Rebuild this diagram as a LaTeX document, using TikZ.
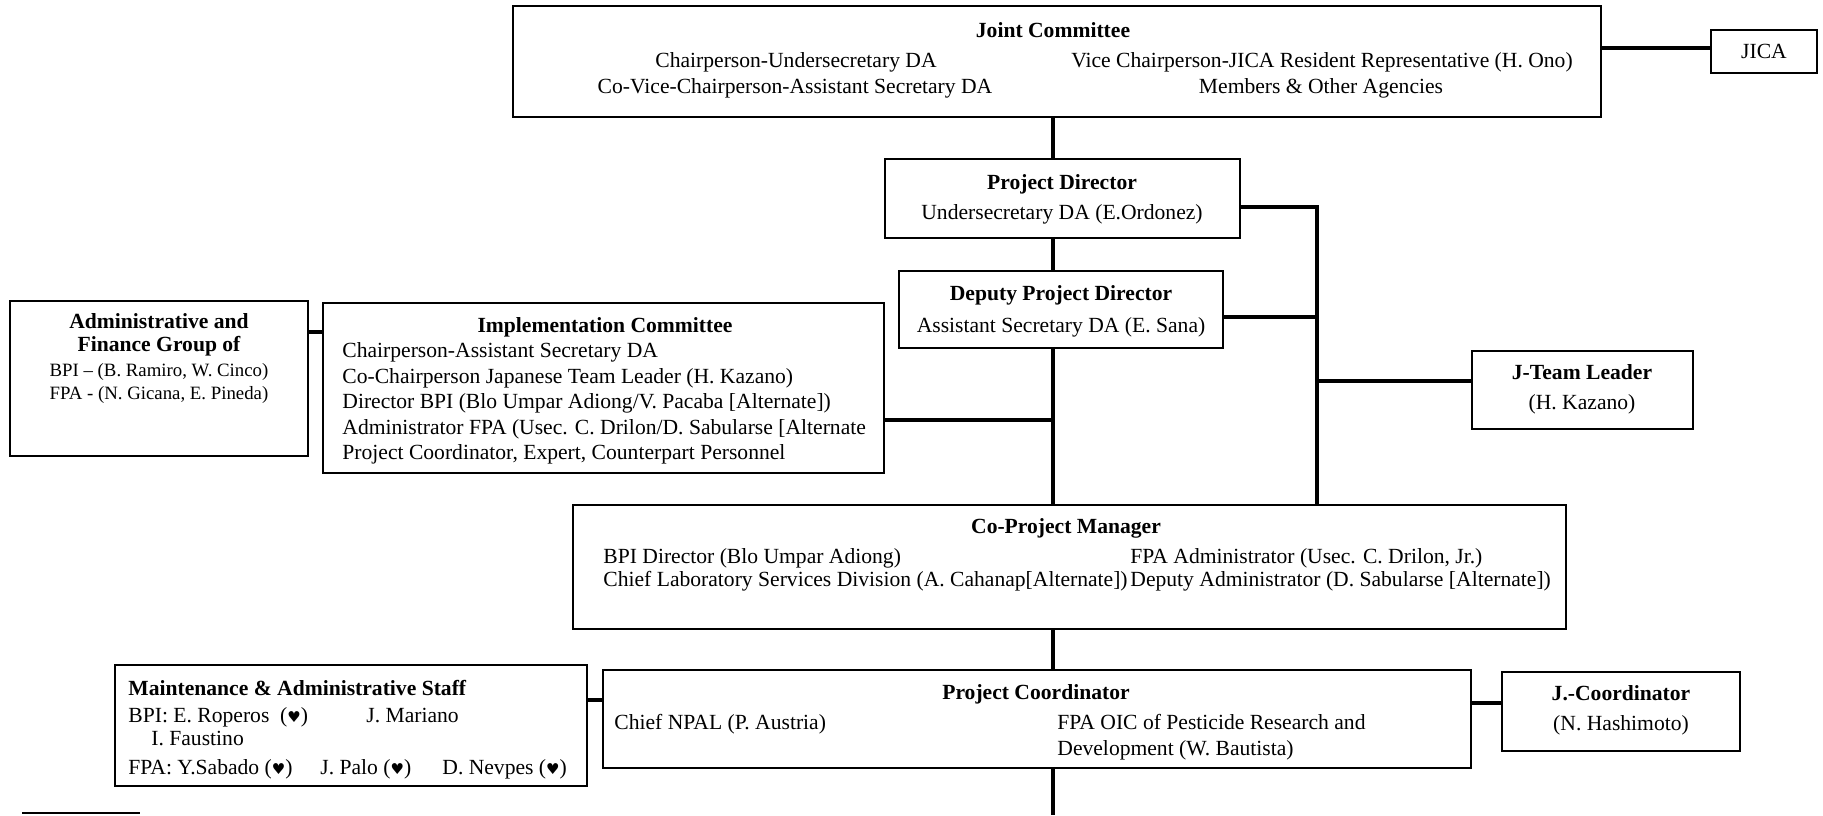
\documentclass[tikz,border=0pt]{standalone}
\usepackage{fontspec}
\setmainfont{Liberation Serif}
\newfontfamily\symfont{DejaVu Sans}
\usetikzlibrary{fit}
\newcommand\hrt{{\symfont\fontsize{7.5}{8}\selectfont ♥}}
\begin{document}
\begin{tikzpicture}[x=0.5pt,y=-0.5pt,
  box/.style={draw, line width=0.75pt, inner sep=0pt},
  txt/.style={inner sep=0pt, font=\fontsize{10.8}{12.6}\selectfont},
  ttl/.style={inner sep=0pt, font=\fontsize{10.8}{12.6}\selectfont\bfseries},
  sml/.style={inner sep=0pt, font=\fontsize{9.4}{11}\selectfont},
  conn/.style={line width=1.7pt},
  stub/.style={line width=1.1pt}]
\useasboundingbox (0,0) rectangle (1823,815);

% Joint Committee
\node[box, fit={(513,6)(1601,117)}] (JC) {};
\node[ttl, anchor=base] (JCt) at (1053,37) {Joint Committee};
\node[txt, anchor=base] (JCl1) at (796,67) {Chairperson-Undersecretary DA};
\node[txt, anchor=base] (JCl2) at (795,93) {Co-Vice-Chairperson-Assistant Secretary DA};
\node[txt, anchor=base] (JCr1) at (1322,67) {Vice Chairperson-JICA Resident Representative (H. Ono)};
\node[txt, anchor=base] (JCr2) at (1321,93) {Members \& Other Agencies};

% JICA
\node[box, fit={(1711,30)(1817,73)}] (JICA) {};
\node[txt, anchor=base] (JICAt) at (1764,58) {JICA};

% Project Director
\node[box, fit={(885,159)(1240,238)}] (PD) {};
\node[ttl, anchor=base] (PDt) at (1062,189) {Project Director};
\node[txt, anchor=base] (PDl) at (1062,219) {Undersecretary DA (E.Ordonez)};

% Deputy Project Director
\node[box, fit={(899,271)(1223,348)}] (DPD) {};
\node[ttl, anchor=base] (DPDt) at (1061,300) {Deputy Project Director};
\node[txt, anchor=base] (DPDl) at (1061,332) {Assistant Secretary DA (E. Sana)};

% Implementation Committee
\node[box, fit={(323,303)(884,473)}] (IC) {};
\node[ttl, anchor=base] (ICt) at (605,332) {Implementation Committee};
\node[txt, anchor=base west] (IC1) at (342,357) {Chairperson-Assistant Secretary DA};
\node[txt, anchor=base west] (IC2) at (342,383) {Co-Chairperson Japanese Team Leader (H. Kazano)};
\node[txt, anchor=base west] (IC3) at (342,408) {Director BPI (Blo Umpar Adiong/V. Pacaba [Alternate])};
\node[txt, anchor=base west] (IC4) at (342,434) {Administrator FPA (Usec. C. Drilon/D. Sabularse [Alternate};
\node[txt, anchor=base west] (IC5) at (342,459) {Project Coordinator, Expert, Counterpart Personnel};

% Administrative and Finance Group
\node[box, fit={(10,301)(308,456)}] (ADM) {};
\node[ttl, anchor=base] (ADMt1) at (159,328) {Administrative and};
\node[ttl, anchor=base] (ADMt2) at (159,351) {Finance Group of};
\node[sml, anchor=base] (ADM1) at (159,376) {BPI -- (B. Ramiro, W. Cinco)};
\node[sml, anchor=base] (ADM2) at (159,399) {FPA - (N. Gicana, E. Pineda)};

% J-Team Leader
\node[box, fit={(1472,351)(1693,429)}] (JTL) {};
\node[ttl, anchor=base] (JTLt) at (1582,379) {J-Team Leader};
\node[txt, anchor=base] (JTLl) at (1582,409) {(H. Kazano)};

% Co-Project Manager
\node[box, fit={(573,505)(1566,629)}] (CPM) {};
\node[ttl, anchor=base] (CPMt) at (1066,533) {Co-Project Manager};
\node[txt, anchor=base west] (CPMl1) at (603,563) {BPI Director (Blo Umpar Adiong)};
\node[txt, anchor=base west] (CPMl2) at (603,586) {Chief Laboratory Services Division (A. Cahanap[Alternate])};
\node[txt, anchor=base west] (CPMr1) at (1130,563) {FPA Administrator (Usec. C. Drilon, Jr.)};
\node[txt, anchor=base west] (CPMr2) at (1130,586) {Deputy Administrator (D. Sabularse [Alternate])};

% Project Coordinator
\node[box, fit={(603,670)(1471,768)}] (PC) {};
\node[ttl, anchor=base] (PCt) at (1036,699) {Project Coordinator};
\node[txt, anchor=base west] (PCl) at (614,729) {Chief NPAL (P. Austria)};
\node[txt, anchor=base west] (PCr1) at (1057,729) {FPA OIC of Pesticide Research and};
\node[txt, anchor=base west] (PCr2) at (1057,755) {Development (W. Bautista)};

% Maintenance & Administrative Staff
\node[box, fit={(115,665)(587,786)}] (MAS) {};
\node[ttl, anchor=base west] (MASt) at (128,695) {Maintenance \& Administrative Staff};
\node[txt, anchor=base west] (MAS1) at (128,722) {BPI: E. Roperos\ \ (\hrt)};
\node[txt, anchor=base west] (MAS2) at (366,722) {J. Mariano};
\node[txt, anchor=base west] (MAS3) at (151,745) {I. Faustino};
\node[txt, anchor=base west] (MAS4) at (128,774) {FPA: Y.Sabado (\hrt)};
\node[txt, anchor=base west] (MAS5) at (320,774) {J. Palo (\hrt)};
\node[txt, anchor=base west] (MAS6) at (442,774) {D. Nevpes (\hrt)};

% J.-Coordinator
\node[box, fit={(1502,672)(1740,751)}] (JCO) {};
\node[ttl, anchor=base] (JCOt) at (1621,700) {J.-Coordinator};
\node[txt, anchor=base] (JCOl) at (1621,730) {(N. Hashimoto)};

% junction coordinates
\coordinate (mx) at (1053,0);
\coordinate (jicaj) at (0,48);
\coordinate (icj) at (1053,420);
\coordinate (afj) at (0,332);
\coordinate (pdj) at (1317,207);
\coordinate (dpj) at (1317,317);
\coordinate (jtj) at (1317,381);
\coordinate (msj) at (0,700);
\coordinate (jcj) at (0,703);
\coordinate (bot) at (1053,815);
\coordinate (stubA) at (22,813);
\coordinate (stubB) at (140,813);

% connectors
\draw[conn] (JC.east |- jicaj) -- (JICA.west |- jicaj);
\draw[conn] (JC.south -| mx) -- (PD.north -| mx);
\draw[conn] (PD.south -| mx) -- (DPD.north -| mx);
\draw[conn] (DPD.south -| mx) -- (CPM.north -| mx);
\draw[conn] (IC.east |- icj) -- (icj);
\draw[conn] (ADM.east |- afj) -- (IC.west |- afj);
\draw[conn] (PD.east |- pdj) -- (pdj) -- (CPM.north -| pdj);
\draw[conn] (DPD.east |- dpj) -- (dpj);
\draw[conn] (jtj) -- (JTL.west |- jtj);
\draw[conn] (CPM.south -| mx) -- (PC.north -| mx);
\draw[conn] (PC.south -| mx) -- (bot);
\draw[conn] (MAS.east |- msj) -- (PC.west |- msj);
\draw[conn] (PC.east |- jcj) -- (JCO.west |- jcj);
\draw[stub] (stubA) -- (stubB);
\end{tikzpicture}
\end{document}
